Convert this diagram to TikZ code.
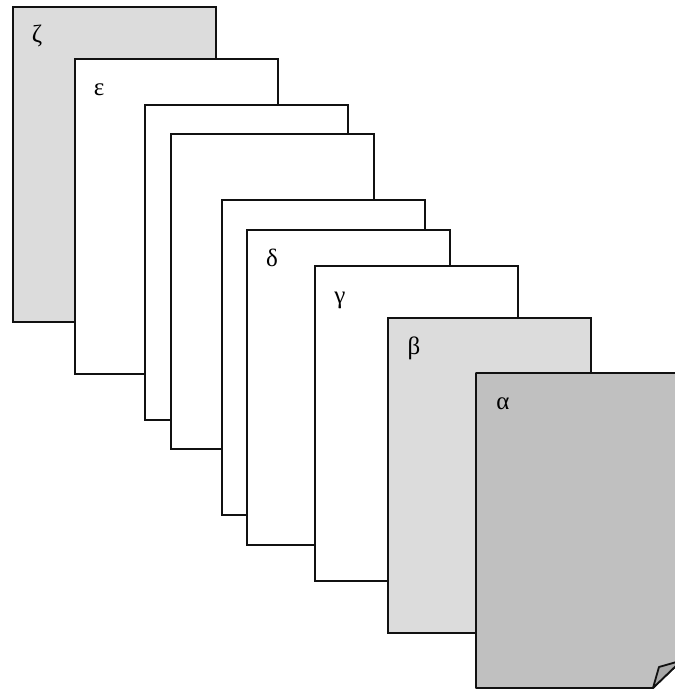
\documentclass[tikz,border=0pt]{standalone}
\usepackage{fontspec}
\setmainfont{Liberation Serif}
\definecolor{lightpage}{HTML}{DCDCDC}
\definecolor{darkpage}{HTML}{C0C0C0}
\definecolor{flapgray}{HTML}{A8A8A8}
\definecolor{edge}{HTML}{111111}
\begin{document}
\begin{tikzpicture}[x=1pt,y=1pt,
  page/.style={draw=edge, line width=1.8pt, fill=white, rectangle, inner sep=0pt,
    minimum width=203pt, minimum height=315pt, anchor=north west},
  lbl/.style={font=\fontsize{25}{30}\selectfont, text=black, inner sep=0pt}]
\useasboundingbox (0,0) rectangle (675,689);
\begin{scope}
\clip (0,0) rectangle (675,689);
% pages, back to front (top-left coordinates, y measured from the top)
\node[page, fill=lightpage] (zeta) at (12,689-6) {};
\node[lbl] (lzeta) at ([shift={(25,-30)}]zeta.north west) {ζ};
\node[page] (eps) at (74,689-58) {};
\node[lbl] (leps) at ([shift={(25,-32)}]eps.north west) {ε};
\node[page] (p3) at (144,689-104) {};
\node[page] (p4) at (170,689-133) {};
\node[page] (p5) at (221,689-199) {};
\node[page] (delta) at (246,689-229) {};
\node[lbl] (ldelta) at ([shift={(26,-29)}]delta.north west) {δ};
\node[page] (gamma) at (314,689-265) {};
\node[lbl] (lgamma) at ([shift={(26,-35)}]gamma.north west) {γ};
\node[page, fill=lightpage] (beta) at (387,689-317) {};
\node[lbl] (lbeta) at ([shift={(27,-31)}]beta.north west) {β};
% front page with curled corner
\coordinate (a1) at (476,689-373);
\coordinate (a2) at (680,689-373);
\coordinate (a3) at (680,689-662);
\coordinate (a4) at (653,689-688);
\coordinate (a5) at (476,689-688);
\draw[draw=edge, line width=1.8pt, fill=darkpage, line join=round]
  (a1) -- (a2) -- (a3) -- (a4) -- (a5) -- cycle;
\node[lbl] (lalpha) at ([shift={(27,-31)}]a1) {α};
\coordinate (f1) at (659,689-667);
\coordinate (f2) at (680,689-661);
\draw[draw=edge, line width=1.8pt, fill=flapgray, line join=round]
  (a4) -- (f1) -- (f2) -- (a3) -- cycle;
\end{scope}
\end{tikzpicture}
\end{document}
